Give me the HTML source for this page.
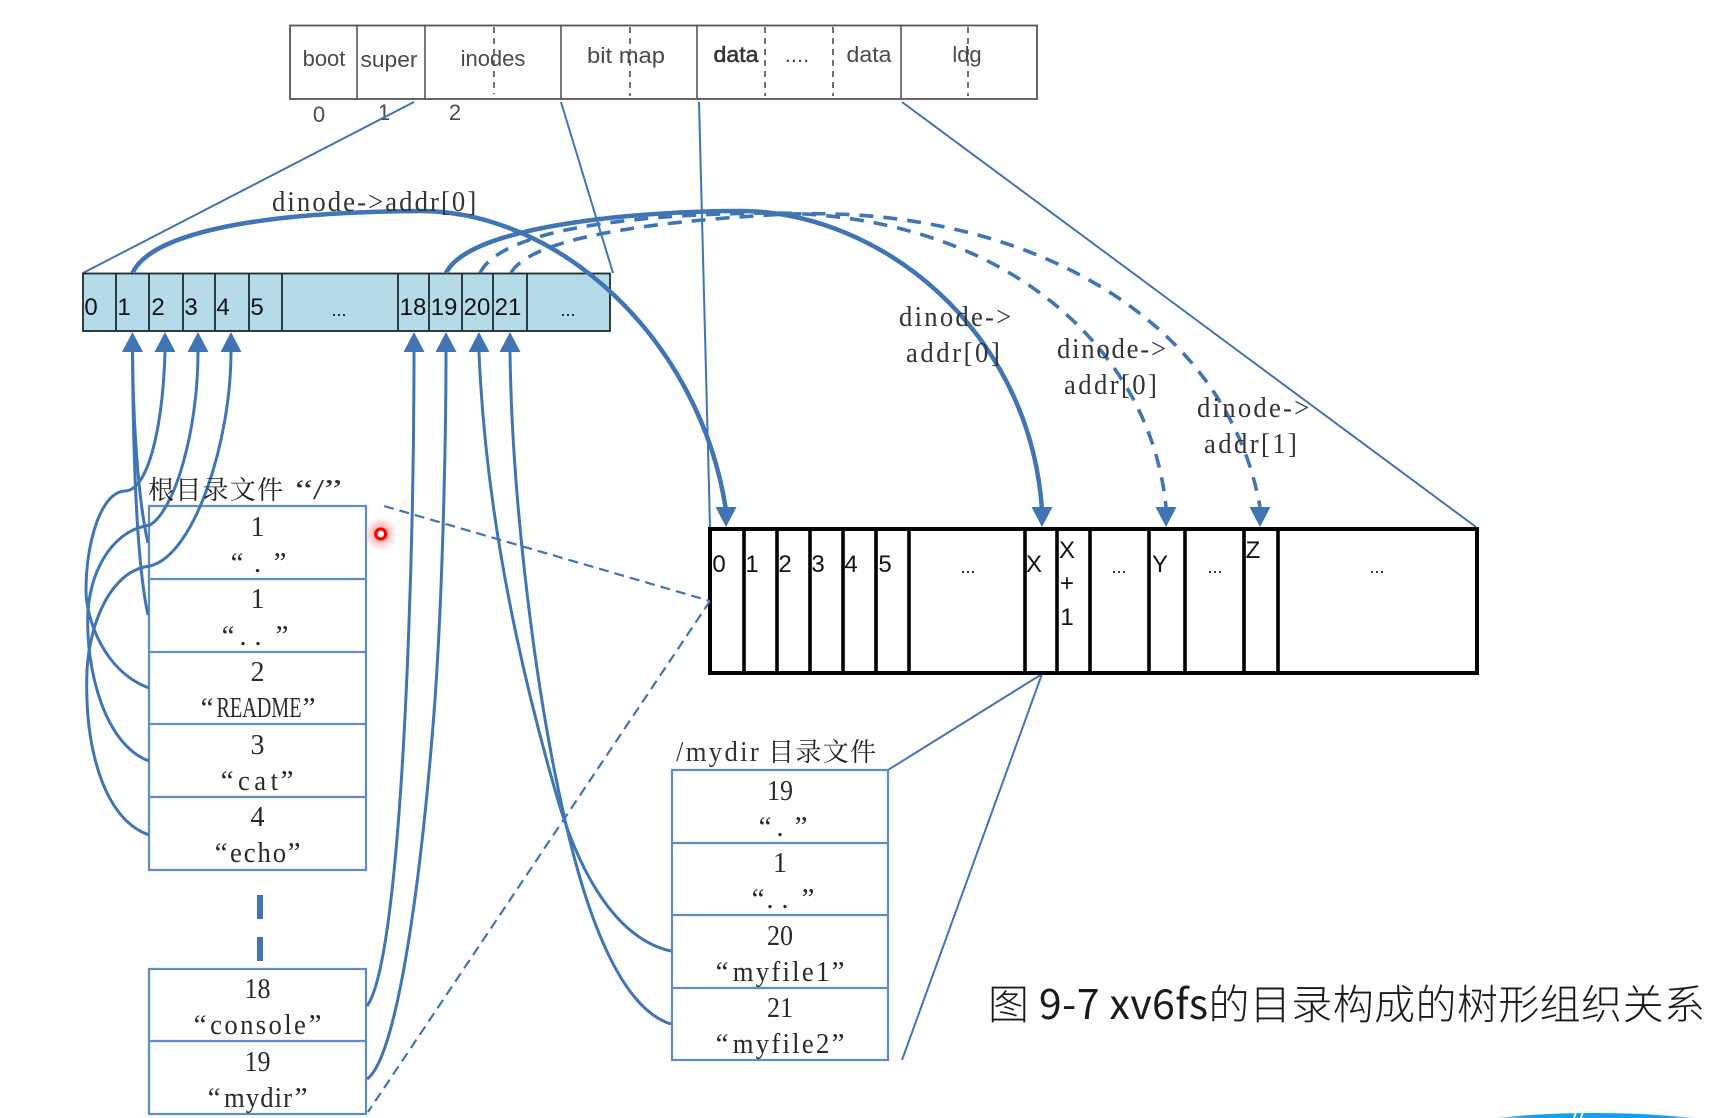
<!DOCTYPE html>
<html><head><meta charset="utf-8"><style>
html,body{margin:0;padding:0;background:#fff;width:1732px;height:1118px;overflow:hidden}
svg{display:block}
.s{font-family:"Liberation Serif","Noto Serif CJK SC",serif;fill:#333;font-size:29px}
.t{font-family:"Liberation Sans",sans-serif;fill:#4a4a4a;font-size:22px;text-anchor:middle}
.n{font-family:"Liberation Sans",sans-serif;fill:#111;font-size:24px;text-anchor:middle}
.c{font-family:"Liberation Serif",serif;fill:#2a2a2a;font-size:29px;text-anchor:middle}
.cj{font-family:"Noto Serif CJK SC","Liberation Serif",serif;fill:#222}
</style></head><body>
<svg width="1732" height="1118" viewBox="0 0 1732 1118" xmlns="http://www.w3.org/2000/svg">
<rect width="1732" height="1118" fill="#fff"/>

<!-- top bar -->
<rect x="290" y="25.5" width="747" height="73.5" fill="#fff" stroke="#555" stroke-width="1.8"/>
<g stroke="#555" stroke-width="1.6">
<path d="M357,25V99M425,25V99M561,25V99M697,25V99M901,25V99"/>
</g>
<g stroke="#444" stroke-width="1.5" stroke-dasharray="6 5">
<path d="M494,27V94M630,27V96M765,27V96M833,27V96M968,27V96"/>
</g>
<text class="t" x="324" y="66">boot</text>
<text class="t" x="389" y="67" textLength="57" lengthAdjust="spacingAndGlyphs">super</text>
<text class="t" x="493" y="66">inodes</text>
<text class="t" x="626" y="63" textLength="78" lengthAdjust="spacingAndGlyphs">bit map</text>
<text class="t" x="736" y="62" style="fill:#333;stroke:#333;stroke-width:.5" textLength="45" lengthAdjust="spacingAndGlyphs">data</text>
<text class="t" x="797" y="62">....</text>
<text class="t" x="869" y="62" textLength="45" lengthAdjust="spacingAndGlyphs">data</text>
<text class="t" x="967" y="62">ldg</text>
<text class="t" x="319" y="122">0</text>
<text class="t" x="384" y="120">1</text>
<text class="t" x="455" y="120">2</text>

<!-- expansion lines -->
<g stroke="#3f75b5" stroke-width="2" fill="none">
<path d="M414,102L83,273"/>
<path d="M561,102L613,273"/>
<path d="M699,102L710,527"/>
<path d="M902,102L1476,527"/>
<path d="M1042,674L888,770"/>
<path d="M1042,674L902,1060"/>
</g>

<!-- inode block row -->
<rect x="83" y="273.5" width="527" height="57.5" fill="#b5dbe9" stroke="#1c2a30" stroke-width="1.8"/>
<path d="M116,273V331M149,273V331M183,273V331M215,273V331M249,273V331M282,273V331M398,273V331M429,273V331M462,273V331M493,273V331M527,273V331" stroke="#1c2a30" stroke-width="1.8"/>
<text class="n" x="91" y="315">0</text>
<text class="n" x="124" y="315">1</text>
<text class="n" x="158" y="315">2</text>
<text class="n" x="191" y="315">3</text>
<text class="n" x="223" y="315">4</text>
<text class="n" x="257" y="315">5</text>
<text class="n" x="339" y="316" style="font-size:18px">...</text>
<text class="n" x="413" y="315">18</text>
<text class="n" x="444" y="315">19</text>
<text class="n" x="477" y="315">20</text>
<text class="n" x="508" y="315">21</text>
<text class="n" x="568" y="316" style="font-size:18px">...</text>

<!-- data block row -->
<rect x="710" y="529" width="767" height="144" fill="#fff" stroke="#000" stroke-width="4"/>
<path d="M744,527V673M777,527V673M810,527V673M843,527V673M876,527V673M909,527V673M1025,527V673M1057,527V673M1090,527V673M1149,527V673M1185,527V673M1244,527V673M1278,527V673" stroke="#000" stroke-width="3.6"/>
<text class="n" x="719" y="572">0</text>
<text class="n" x="752" y="572">1</text>
<text class="n" x="785" y="572">2</text>
<text class="n" x="818" y="572">3</text>
<text class="n" x="851" y="572">4</text>
<text class="n" x="885" y="572">5</text>
<text class="n" x="968" y="573" style="font-size:18px">...</text>
<text class="n" x="1034" y="572">X</text>
<text class="n" x="1067" y="558">X</text>
<text class="n" x="1067" y="591">+</text>
<text class="n" x="1067" y="625">1</text>
<text class="n" x="1119" y="573" style="font-size:18px">...</text>
<text class="n" x="1160" y="572">Y</text>
<text class="n" x="1215" y="573" style="font-size:18px">...</text>
<text class="n" x="1253" y="558">Z</text>
<text class="n" x="1377" y="573" style="font-size:18px">...</text>

<!-- tables -->
<g fill="#fff" stroke="#5f8cc4" stroke-width="2.2">
<rect x="149" y="506" width="217" height="364"/>
<path d="M149,579H366M149,652H366M149,724H366M149,797H366"/>
<rect x="149" y="969" width="217" height="145"/>
<path d="M149,1041H366"/>
<rect x="672" y="770" width="216" height="290"/>
<path d="M672,843H888M672,915H888M672,988H888"/>
</g>

<!-- root table text -->
<text class="c" x="257.5" y="536" textLength="14" lengthAdjust="spacingAndGlyphs">1</text>
<text class="c" x="237" y="572">“</text><text class="c" x="257.5" y="572">.</text><text class="c" x="280" y="572">”</text>
<text class="c" x="257.5" y="608" textLength="14" lengthAdjust="spacingAndGlyphs">1</text>
<text class="c" x="228" y="645">“</text><text class="c" x="243" y="645">.</text><text class="c" x="258" y="645">.</text><text class="c" x="282" y="645">”</text>
<text class="c" x="257.5" y="681" textLength="14" lengthAdjust="spacingAndGlyphs">2</text>
<text class="c" x="207" y="717">“</text><text class="c" x="259" y="717" textLength="85" lengthAdjust="spacingAndGlyphs">README</text><text class="c" x="309" y="717">”</text>
<text class="c" x="257.5" y="754" textLength="14" lengthAdjust="spacingAndGlyphs">3</text>
<text class="c" x="227" y="790">“</text><text class="c" transform="translate(258,790) scale(.92,1)" textLength="43.5" lengthAdjust="spacing">cat</text><text class="c" x="287" y="790">”</text>
<text class="c" x="257.5" y="826" textLength="14" lengthAdjust="spacingAndGlyphs">4</text>
<text class="c" x="221" y="862">“</text><text class="c" transform="translate(258,862) scale(.92,1)" textLength="61" lengthAdjust="spacing">echo</text><text class="c" x="294" y="862">”</text>
<text class="c" x="257.5" y="998" textLength="26" lengthAdjust="spacingAndGlyphs">18</text>
<text class="c" x="200" y="1034">“</text><text class="c" transform="translate(258,1034) scale(.92,1)" textLength="104" lengthAdjust="spacing">console</text><text class="c" x="315" y="1034">”</text>
<text class="c" x="257.5" y="1071" textLength="26" lengthAdjust="spacingAndGlyphs">19</text>
<text class="c" x="214" y="1107">“</text><text class="c" transform="translate(258,1107) scale(.92,1)" textLength="74" lengthAdjust="spacing">mydir</text><text class="c" x="301" y="1107">”</text>

<!-- mydir table text -->
<text class="c" x="780" y="800" textLength="26" lengthAdjust="spacingAndGlyphs">19</text>
<text class="c" x="765" y="836">“</text><text class="c" x="780" y="836">.</text><text class="c" x="801" y="836">”</text>
<text class="c" x="780" y="872" textLength="14" lengthAdjust="spacingAndGlyphs">1</text>
<text class="c" x="758" y="908">“</text><text class="c" x="770" y="908">.</text><text class="c" x="785" y="908">.</text><text class="c" x="808" y="908">”</text>
<text class="c" x="780" y="945" textLength="26" lengthAdjust="spacingAndGlyphs">20</text>
<text class="c" x="722" y="981">“</text><text class="c" transform="translate(781,981) scale(.92,1)" textLength="105" lengthAdjust="spacing">myfile1</text><text class="c" x="838" y="981">”</text>
<text class="c" x="780" y="1017" textLength="26" lengthAdjust="spacingAndGlyphs">21</text>
<text class="c" x="722" y="1053">“</text><text class="c" transform="translate(781,1053) scale(.92,1)" textLength="105" lengthAdjust="spacing">myfile2</text><text class="c" x="838" y="1053">”</text>

<!-- dashed projections -->
<g stroke="#3f75b5" stroke-width="2.2" fill="none" stroke-dasharray="10 6">
<path d="M384,506L710,601"/>
<path d="M710,601L368,1112"/>
</g>
<path d="M260,895V919M260,937V961" stroke="#3f75b5" stroke-width="6" fill="none"/>

<!-- thin curves to inode blocks -->
<g stroke="#3f75b5" stroke-width="3" fill="none">
<path d="M148,543C138,500 133,420 132.5,350"/>
<path d="M148,615C136,560 133,440 132.5,350"/>
<path d="M149,688C105,672 86,620 86,590C86,545 100,492 125,491C150,490 163,420 165,352"/>
<path d="M149,761C105,745 85,670 88,610C92,565 115,530 150,525C175,510 198,430 198,352"/>
<path d="M149,835C105,820 84,750 87,670C90,620 112,570 150,566C195,555 231,440 231,352"/>
<path d="M367,1006C390,975 402,800 408,650C412,550 414,450 414,352"/>
<path d="M367,1079C395,1060 420,900 435,700C442,600 446,450 446,352"/>
<path d="M671,951C620,940 580,880 555,790C515,650 485,500 479,352"/>
<path d="M671,1024C625,1010 590,930 565,820C535,690 512,500 510,352"/>
</g>

<!-- thick arcs -->
<g stroke="#3f75b5" stroke-width="4.5" fill="none">
<path d="M132.5,273C150,235 250,212 420,211C560,211 700,340 726,510"/>
<path d="M446,273C470,225 640,211 740,211C880,211 1030,330 1042,510"/>
</g>
<g stroke="#3f75b5" stroke-width="3.6" fill="none" stroke-dasharray="14 10">
<path d="M480,273C500,232 620,214 770,213C1000,213 1150,345 1166,507"/>
<path d="M511,273C530,238 650,222 770,215C1010,200 1225,310 1260,507"/>
</g>

<!-- arrowheads -->
<g fill="#3f75b5">
<path d="M132.5,332L143,352H122Z"/>
<path d="M165,332L175.5,352H154.5Z"/>
<path d="M198,332L208.5,352H187.5Z"/>
<path d="M231,332L241.5,352H220.5Z"/>
<path d="M414,332L424.5,352H403.5Z"/>
<path d="M446,332L456.5,352H435.5Z"/>
<path d="M479,332L489.5,352H468.5Z"/>
<path d="M510,332L520.5,352H499.5Z"/>
<path d="M726,527L715.5,507H736.5Z"/>
<path d="M1042,527L1031.5,507H1052.5Z"/>
<path d="M1166,527L1155.5,507H1176.5Z"/>
<path d="M1260,527L1249.5,507H1270.5Z"/>
</g>

<!-- labels -->
<text class="s" transform="translate(272,211) scale(.92,1)" textLength="222" lengthAdjust="spacing">dinode-&gt;addr[0]</text>
<text class="s" transform="translate(899,326) scale(.92,1)" textLength="122" lengthAdjust="spacing">dinode-&gt;</text>
<text class="s" transform="translate(906,362) scale(.92,1)" textLength="102" lengthAdjust="spacing">addr[0]</text>
<text class="s" transform="translate(1057,358) scale(.92,1)" textLength="118.5" lengthAdjust="spacing">dinode-&gt;</text>
<text class="s" transform="translate(1064,394) scale(.92,1)" textLength="101" lengthAdjust="spacing">addr[0]</text>
<text class="s" transform="translate(1197,417) scale(.92,1)" textLength="122" lengthAdjust="spacing">dinode-&gt;</text>
<text class="s" transform="translate(1204,453) scale(.92,1)" textLength="101" lengthAdjust="spacing">addr[1]</text>

<text class="cj" x="148" y="499" font-size="26" textLength="135" lengthAdjust="spacing">根目录文件</text>
<text class="s" x="295" y="499" textLength="47" lengthAdjust="spacingAndGlyphs">“/”</text>
<text class="s" transform="translate(676,761) scale(.92,1)" textLength="90" lengthAdjust="spacing">/mydir</text>
<text class="cj" x="768" y="761" font-size="26" textLength="108" lengthAdjust="spacing">目录文件</text>

<text x="988" y="1019" font-size="41" textLength="717" lengthAdjust="spacing" style="font-family:'Noto Sans CJK SC','Liberation Sans',sans-serif;font-weight:300;fill:#1a1a1a">图 <tspan style="font-weight:400">9-7 xv6fs</tspan>的目录构成的树形组织关系</text>

<!-- cursor -->
<defs>
<radialGradient id="g"><stop offset="0" stop-color="#ff3a3a" stop-opacity=".75"/><stop offset=".45" stop-color="#ff6a6a" stop-opacity=".45"/><stop offset="1" stop-color="#ff8a8a" stop-opacity="0"/></radialGradient>
<linearGradient id="b" x1="0" x2="1"><stop offset="0" stop-color="#bfe6fb"/><stop offset=".15" stop-color="#12a0f0"/><stop offset=".85" stop-color="#12a0f0"/><stop offset="1" stop-color="#bfe6fb"/></linearGradient>
</defs>
<circle cx="380.7" cy="534" r="17" fill="url(#g)"/>
<circle cx="380.7" cy="534" r="5" fill="#fff" stroke="#f00" stroke-width="3.2"/>

<!-- bottom swoosh -->
<path d="M1495,1118Q1590,1108 1697,1118Z" fill="url(#b)"/>
<path d="M1574,1118L1576,1112M1581,1118L1583,1112" stroke="#fff" stroke-width="1.8"/>
</svg>
</body></html>
